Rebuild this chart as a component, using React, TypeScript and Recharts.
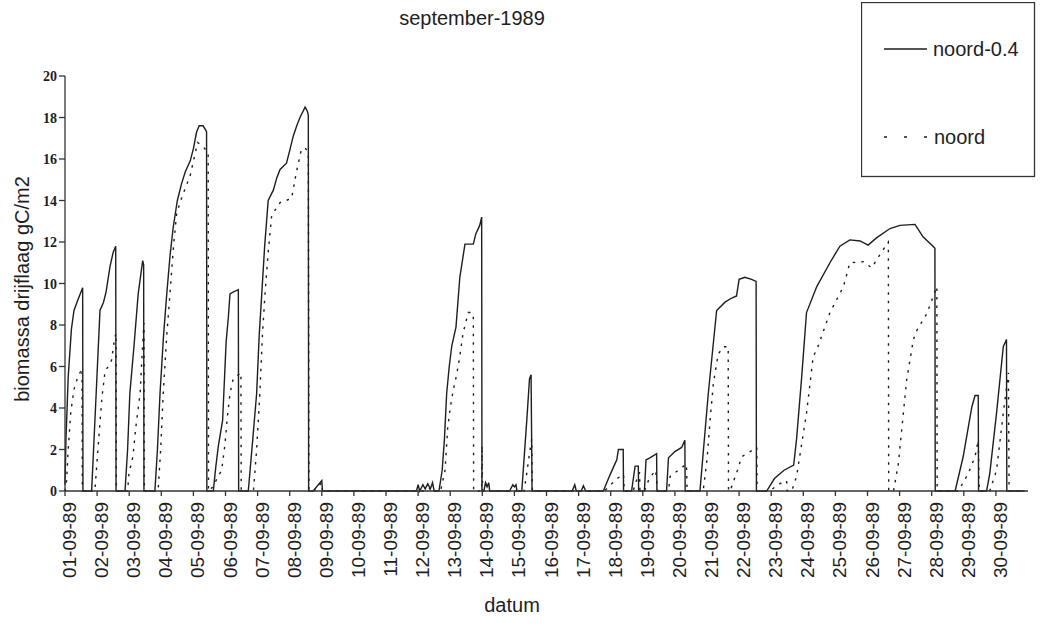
import React from 'react';
import { LineChart, Line, XAxis, YAxis, Legend, Customized } from 'recharts';

const dateLabels = [
  '01-09-89', '02-09-89', '03-09-89', '04-09-89', '05-09-89', '06-09-89', '07-09-89', '08-09-89',
  '09-09-89', '10-09-89', '11-09-89', '12-09-89', '13-09-89', '14-09-89', '15-09-89', '16-09-89',
  '17-09-89', '18-09-89', '19-09-89', '20-09-89', '21-09-89', '22-09-89', '23-09-89', '24-09-89',
  '25-09-89', '26-09-89', '27-09-89', '28-09-89', '29-09-89', '30-09-89',
];
const dayTicks = [1, 2, 3, 4, 5, 6, 7, 8, 9, 10, 11, 12, 13, 14, 15, 16, 17, 18, 19, 20, 21, 22, 23, 24, 25, 26, 27, 28, 29, 30];
const yTicks = [0, 2, 4, 6, 8, 10, 12, 14, 16, 18, 20];

const seriesNames = ['noord-0.4', 'noord'];
const chartTitle = 'september-1989';
const xTitle = 'datum';
const yTitle = 'biomassa drijflaag gC/m2';

// [day, biomass]
const noord04: [number, number][] = [
  [1.0, 0.3], [1.03, 2.5], [1.1, 5.5], [1.2, 7.8], [1.28, 8.7], [1.4, 9.2], [1.55, 9.8], [1.56, 0],
  [1.83, 0], [1.95, 4.0], [2.09, 8.7], [2.2, 9.1], [2.28, 9.6], [2.4, 10.8], [2.5, 11.5], [2.58, 11.8], [2.59, 0],
  [2.87, 0], [2.95, 2.0], [3.02, 4.7], [3.15, 7.0], [3.28, 9.5], [3.42, 11.1], [3.45, 10.9], [3.46, 0],
  [3.8, 0], [3.88, 2.0], [3.96, 4.7], [4.07, 7.5], [4.17, 9.5], [4.27, 11.3], [4.37, 12.7], [4.5, 14.0], [4.63, 14.8],
  [4.75, 15.4], [4.9, 15.9], [5.0, 16.5], [5.1, 17.3], [5.18, 17.6], [5.3, 17.6], [5.38, 17.4], [5.41, 17.3], [5.42, 0],
  [5.62, 0], [5.7, 1.2], [5.78, 2.2], [5.91, 3.4], [6.02, 7.2], [6.09, 8.4], [6.14, 9.5], [6.25, 9.6], [6.4, 9.7], [6.41, 0],
  [6.71, 0], [6.85, 2.5], [6.97, 4.7], [7.05, 7.5], [7.13, 9.5], [7.22, 11.8], [7.33, 14.0], [7.49, 14.5], [7.6, 15.1],
  [7.7, 15.5], [7.9, 15.8], [8.0, 16.4], [8.11, 17.1], [8.22, 17.6], [8.32, 18.0], [8.48, 18.5], [8.55, 18.3], [8.58, 18.1], [8.59, 0],
  [8.73, 0], [9.0, 0.5], [9.02, 0],
  [11.95, 0], [12.0, 0.3], [12.05, 0], [12.15, 0.3], [12.22, 0.1], [12.3, 0.35], [12.38, 0.1], [12.45, 0.4], [12.5, 0],
  [12.65, 0], [12.75, 1.0], [12.82, 2.5], [12.89, 4.7], [12.97, 6.0], [13.05, 7.0], [13.18, 7.9], [13.3, 10.3], [13.46, 11.9],
  [13.72, 11.9], [13.8, 12.4], [13.92, 12.8], [13.98, 13.2], [13.99, 0],
  [14.05, 0], [14.1, 0.4], [14.15, 0.2], [14.2, 0.4], [14.23, 0],
  [14.85, 0], [14.95, 0.3], [15.0, 0.2], [15.05, 0.3], [15.08, 0],
  [15.23, 0], [15.39, 3.5], [15.47, 5.4], [15.52, 5.6], [15.55, 0],
  [16.8, 0], [16.88, 0.3], [16.93, 0], [17.08, 0], [17.15, 0.25], [17.22, 0],
  [17.77, 0], [17.93, 0.6], [18.1, 1.2], [18.19, 1.5], [18.24, 2.0], [18.39, 2.0], [18.4, 0],
  [18.65, 0], [18.76, 1.2], [18.86, 1.2], [18.87, 0],
  [19.05, 0], [19.1, 1.5], [19.22, 1.6], [19.43, 1.8], [19.44, 0],
  [19.74, 0], [19.8, 1.6], [20.0, 1.9], [20.21, 2.1], [20.31, 2.45], [20.32, 0],
  [20.78, 0], [21.04, 4.7], [21.3, 8.7], [21.56, 9.1], [21.77, 9.3], [21.92, 9.4], [22.0, 10.2], [22.18, 10.3],
  [22.39, 10.2], [22.53, 10.1], [22.54, 0],
  [22.86, 0], [23.1, 0.6], [23.4, 1.0], [23.7, 1.25], [23.79, 2.5], [23.95, 5.5], [24.1, 8.6], [24.42, 9.85],
  [24.83, 11.0], [25.14, 11.8], [25.45, 12.1], [25.77, 12.05], [26.02, 11.85], [26.28, 12.2], [26.7, 12.65],
  [27.01, 12.8], [27.48, 12.85], [27.73, 12.25], [28.04, 11.8], [28.1, 11.7], [28.11, 0],
  [28.73, 0], [28.98, 1.65], [29.25, 4.05], [29.35, 4.6], [29.45, 4.6], [29.46, 0],
  [29.71, 0], [29.81, 0.85], [30.02, 3.75], [30.23, 6.95], [30.33, 7.3], [30.34, 0], [30.9, 0],
];

const noord: [number, number][] = [
  [1.0, 0], [1.05, 0.5], [1.1, 2.0], [1.18, 3.8], [1.28, 4.9], [1.4, 5.5], [1.53, 5.9], [1.54, 0],
  [1.93, 0], [2.05, 2.5], [2.15, 4.5], [2.25, 5.8], [2.35, 6.0], [2.45, 6.3], [2.55, 7.4], [2.59, 7.6], [2.6, 0],
  [2.95, 0], [3.0, 1.0], [3.05, 1.2], [3.12, 1.7], [3.2, 3.0], [3.34, 4.7], [3.4, 6.5], [3.46, 8.1], [3.47, 0],
  [3.9, 0], [3.98, 2.0], [4.06, 4.7], [4.17, 7.5], [4.27, 9.5], [4.38, 11.8], [4.48, 13.4], [4.65, 14.2], [4.9, 15.2],
  [5.13, 16.8], [5.3, 16.6], [5.46, 16.3], [5.47, 0],
  [5.49, 0], [5.6, 0.2], [5.88, 1.0], [5.98, 2.2], [6.06, 3.6], [6.14, 4.7], [6.24, 5.4], [6.48, 5.7], [6.49, 0],
  [6.87, 0], [6.97, 2.0], [7.07, 4.7], [7.15, 7.5], [7.23, 9.5], [7.33, 11.5], [7.44, 13.3], [7.7, 13.9], [8.06, 14.1],
  [8.2, 15.3], [8.37, 16.5], [8.5, 16.5], [8.58, 16.3], [8.6, 0],
  [8.75, 0], [9.0, 0.4], [9.02, 0],
  [12.3, 0], [12.4, 0.2], [12.5, 0],
  [12.7, 0], [12.84, 1.0], [12.92, 3.0], [13.0, 4.0], [13.1, 4.9], [13.2, 5.6], [13.3, 6.5], [13.4, 7.6], [13.56, 8.6],
  [13.68, 8.6], [13.72, 8.5], [13.73, 0], [13.98, 0], [13.99, 2.2], [14.01, 0],
  [14.05, 0], [14.12, 0.3], [14.18, 0],
  [15.3, 0], [15.38, 0.8], [15.47, 1.8], [15.54, 2.5], [15.56, 0],
  [17.8, 0], [18.0, 0.3], [18.2, 0.6], [18.4, 0.8], [18.42, 0],
  [18.7, 0], [18.8, 0.5], [18.9, 0.9], [18.91, 0],
  [19.05, 0], [19.2, 0.6], [19.4, 1.0], [19.46, 0],
  [19.8, 0], [19.85, 0.7], [20.36, 1.3], [20.38, 0],
  [20.88, 0], [21.0, 1.5], [21.1, 3.5], [21.2, 5.2], [21.35, 6.6], [21.51, 6.95], [21.66, 6.95], [21.67, 0],
  [21.72, 0], [21.95, 1.0], [22.08, 1.65], [22.55, 2.1], [22.56, 0],
  [22.96, 0], [23.2, 0.3], [23.48, 0.5], [23.5, 0],
  [23.64, 0], [23.79, 0.7], [24.1, 3.75], [24.31, 6.5], [24.42, 6.8], [24.83, 8.6], [25.25, 9.85], [25.45, 11.0],
  [25.87, 11.05], [26.13, 10.75], [26.39, 11.4], [26.65, 12.0], [26.66, 0],
  [26.81, 0], [26.96, 1.3], [27.22, 5.35], [27.43, 7.3], [27.54, 7.75], [27.85, 8.55], [28.16, 9.85], [28.17, 0],
  [28.83, 0], [29.14, 0.85], [29.35, 1.65], [29.45, 2.45], [29.48, 0],
  [29.81, 0], [30.02, 1.0], [30.23, 3.75], [30.39, 5.7], [30.41, 0], [30.9, 0],
];

const toRows = (pts: [number, number][]) => pts.map(([day, value]) => ({ day, value }));

const FONT = "'Liberation Sans', Arial, Helvetica, sans-serif";
const INK = '#1e1e1e';

const DateTick = (props: any) => {
  const { x, payload } = props;
  const idx = dayTicks.indexOf(payload.value);
  const label = idx >= 0 ? dateLabels[idx] : '';
  const bx = x + 11;
  const by = 502;
  return (
    <text x={bx} y={by} transform={`rotate(-90 ${bx} ${by})`} textAnchor="end" fontSize={19} fontFamily={FONT} fill={INK}>
      {label}
    </text>
  );
};

const ValueTick = (props: any) => {
  const { y, payload } = props;
  return (
    <text x={57} y={y + 5} textAnchor="end" fontSize={14} fontWeight="bold" fontFamily="'Liberation Serif', 'Times New Roman', serif" fill={INK}>
      {payload.value}
    </text>
  );
};

const YTitle = () => (
  <text x={29} y={289} transform="rotate(-90 29 289)" textAnchor="middle" fontSize={20} fontFamily={FONT} fill={INK}>
    {yTitle}
  </text>
);

const XTitle = () => (
  <text x={512} y={612} textAnchor="middle" fontSize={20} fontFamily={FONT} fill={INK}>
    {xTitle}
  </text>
);

const Title = () => (
  <text x={472} y={25} textAnchor="middle" fontSize={20} fontFamily={FONT} fill={INK}>
    {chartTitle}
  </text>
);

const LegendBox = (props: any) => {
  const items = [...(props.payload || [])].sort(
    (a: any, b: any) => seriesNames.indexOf(a.value) - seriesNames.indexOf(b.value)
  );
  const rowY = [47, 135];
  return (
    <svg width={175} height={176} style={{ display: 'block' }}>
      <rect x={0.5} y={0.5} width={173} height={174} fill="#fff" stroke="#333" strokeWidth={1.3} />
      {items.map((it: any, i: number) => {
        const solid = it.value === seriesNames[0];
        return (
          <g key={it.value}>
            <line
              x1={23}
              y1={rowY[i]}
              x2={solid ? 66 : 68}
              y2={rowY[i]}
              stroke={INK}
              strokeWidth={1.3}
              strokeDasharray={solid ? undefined : '3 17'}
            />
            <text x={solid ? 72 : 73} y={rowY[i] + 7} fontSize={20} fontFamily={FONT} fill={INK}>
              {it.value}
            </text>
          </g>
        );
      })}
    </svg>
  );
};

export default function App() {
  return (
    <div style={{ position: 'absolute', left: 0, top: 0, width: 1041, height: 627, background: '#fff' }}>
      <LineChart width={1041} height={627} margin={{ top: 76, right: 13, bottom: 0, left: 0 }}>
        <XAxis
          dataKey="day"
          type="number"
          domain={[1, 31]}
          ticks={dayTicks}
          interval={0}
          height={136}
          tick={<DateTick />}
          tickSize={5}
          stroke="#333"
          strokeWidth={1.3}
          label={<XTitle />}
        />
        <YAxis
          type="number"
          domain={[0, 20]}
          ticks={yTicks}
          width={65}
          tick={<ValueTick />}
          tickSize={6}
          stroke="#333"
          strokeWidth={1.3}
          label={<YTitle />}
        />
        <Legend
          layout="vertical"
          align="center"
          verticalAlign="middle"
          content={<LegendBox />}
          wrapperStyle={{ position: 'absolute', left: 861, top: 2, width: 175, height: 176, margin: 0 }}
        />
        <Line
          data={toRows(noord04)}
          dataKey="value"
          name={seriesNames[0]}
          type="linear"
          stroke={INK}
          strokeWidth={1.4}
          dot={false}
          activeDot={false}
          isAnimationActive={false}
        />
        <Line
          data={toRows(noord)}
          dataKey="value"
          name={seriesNames[1]}
          type="linear"
          stroke={INK}
          strokeWidth={1.4}
          strokeDasharray="2.5 6"
          dot={false}
          activeDot={false}
          isAnimationActive={false}
        />
        <Customized component={Title} />
      </LineChart>
    </div>
  );
}
